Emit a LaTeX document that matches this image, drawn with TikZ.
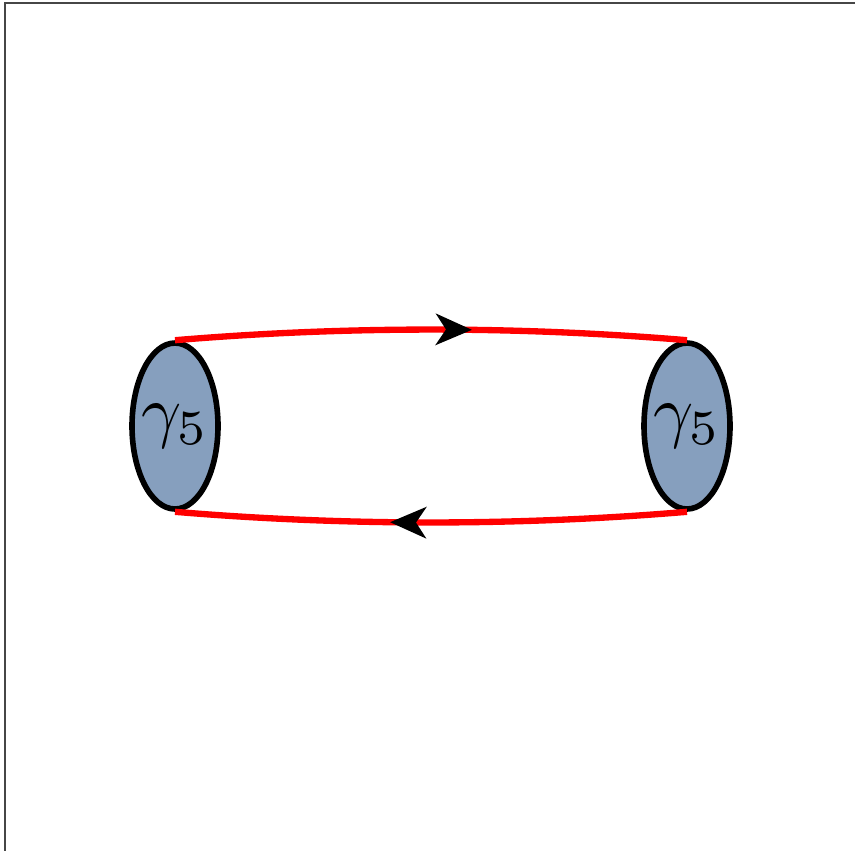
\documentclass[tikz,border=0pt]{standalone}
\usepackage{graphicx}
\usetikzlibrary{shapes.geometric,arrows.meta,decorations.markings}
\definecolor{blobfill}{RGB}{134,159,190}
\definecolor{framegray}{RGB}{70,70,70}
\newcommand{\blobtext}{\scalebox{4}{$\gamma_5$}}
\tikzset{
  blob/.style={ellipse, draw=black, line width=3.2pt, fill=blobfill,
    minimum width=1.72cm, minimum height=3.32cm, inner sep=0pt},
  fermion/.style={draw=red, line width=3.6pt,
    postaction={decorate},
    decoration={markings, mark=at position 0.58 with {\arrow[black]{Stealth[length=0.72cm,width=0.62cm,inset=0.2cm]}}}},
}
\begin{document}
\begin{tikzpicture}[x=0.02cm,y=-0.02cm]
\useasboundingbox (0,0) rectangle (855,850);
\draw[framegray, line width=1.4pt] (5,852) -- (5,3) -- (858,3);
\node[blob] (L) at (175,426) {};
\node[blob] (R) at (687,426) {};
\node (Lt) at (L.center) {\blobtext};
\node (Rt) at (R.center) {\blobtext};
\draw[fermion] (L.north) .. controls (345,326) and (517,326) .. (R.north);
\draw[fermion] (R.south) .. controls (517,526) and (345,526) .. (L.south);
\end{tikzpicture}
\end{document}
